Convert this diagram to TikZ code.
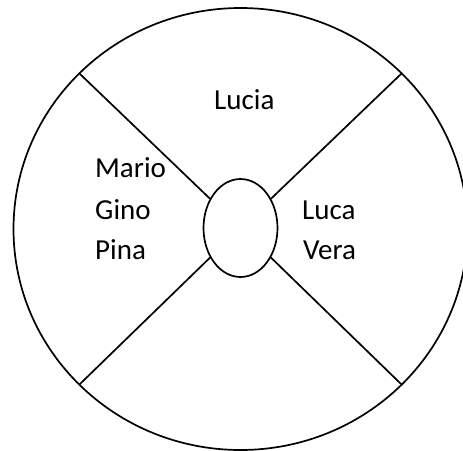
\documentclass[tikz,border=0pt]{standalone}
\usepackage{fontspec}
\setmainfont{Carlito}
\usetikzlibrary{shapes.geometric}
\begin{document}
\begin{tikzpicture}[x=1pt,y=-1pt,
  outline/.style={draw=black,line width=1.7pt,ellipse,inner sep=0pt},
  spoke/.style={draw=black,line width=1.7pt},
  nametext/.style={anchor=base west,inner sep=0pt,font=\fontsize{29}{41}\selectfont}]
\useasboundingbox (0,0) rectangle (463,450);
\node[outline,minimum width=454pt,minimum height=442pt] (ring) at (240.5,229) {};
\node[outline,minimum width=74pt,minimum height=98pt] (hub) at (240.5,228) {};
\draw[spoke] (hub) -- (ring.136);
\draw[spoke] (hub) -- (ring.44);
\draw[spoke] (hub) -- (ring.224);
\draw[spoke] (hub) -- (ring.316);
\node[nametext] (lucia) at (214,109) {Lucia};
\node[nametext] (mario) at (95,177) {Mario};
\node[nametext] (gino) at (95,219) {Gino};
\node[nametext] (pina) at (95,259) {Pina};
\node[nametext] (luca) at (302,219) {Luca};
\node[nametext] (vera) at (303,259) {Vera};
\end{tikzpicture}
\end{document}
